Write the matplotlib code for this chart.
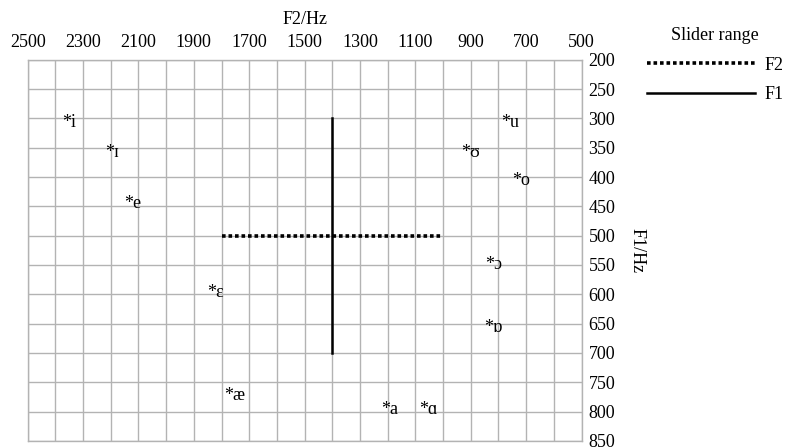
import matplotlib
matplotlib.use('Agg')
from matplotlib import pyplot as plt
import numpy as np

plt.rcParams['font.family'] = ['Liberation Serif', 'DejaVu Serif']

# vowel labels: (text, F2 Hz, F1 Hz) at the label's left/baseline
vowels = ['*i', '*ɪ', '*e', '*ɛ', '*æ', '*a', '*ɑ', '*ɒ', '*ɔ', '*o', '*ʊ', '*u']
vowel_f2 = [2375, 2221, 2151, 1851, 1791, 1225, 1086, 852, 848, 752, 936, 791]
vowel_f1 = [315, 365, 452, 604, 780, 804, 804, 665, 557, 414, 365, 315]

# slider ranges
f2_range = [1800, 1000]
f2_fixed_f1 = [500, 500]
f1_range = [300, 700]
f1_fixed_f2 = [1400, 1400]

f2_ticks = list(range(2500, 400, -200))
f1_ticks = list(range(200, 900, 50))

grey = '#b3b3b3'


def main():
    fig = plt.figure(figsize=(7.95, 4.48), dpi=100)
    ax = fig.add_axes([0.0348, 0.016, 0.6967, 0.8505])

    ax.set_xlim(2500, 500)
    ax.set_ylim(850, 200)

    ax.set_xticks(np.arange(2500, 499, -100), minor=True)
    ax.set_xticks(f2_ticks)
    ax.set_yticks(f1_ticks)
    ax.grid(True, which='both', axis='x', color=grey, lw=1.0)
    ax.grid(True, which='major', axis='y', color=grey, lw=1.0)
    ax.set_axisbelow(True)

    ax.xaxis.tick_top()
    ax.xaxis.set_label_position('top')
    ax.yaxis.tick_right()
    ax.yaxis.set_label_position('right')
    ax.tick_params(axis='both', which='both', length=0, labelsize=13)
    ax.tick_params(axis='x', pad=6.5)
    ax.tick_params(axis='y', pad=5)
    for s in ax.spines.values():
        s.set_color(grey)
        s.set_linewidth(1.0)

    ax.set_xlabel('F2/Hz', fontsize=13, labelpad=7)
    ax.set_ylabel('F1/Hz', fontsize=13, rotation=270, labelpad=22)

    ax.plot(f2_range, f2_fixed_f1, color='black', lw=2.6,
            linestyle=(0, (1, 0.8)), label='F2')
    ax.plot(f1_fixed_f2, f1_range, color='black', lw=1.8, label='F1')

    for txt, x, y in zip(vowels, vowel_f2, vowel_f1):
        ax.text(x, y, txt, fontsize=13, ha='left', va='baseline')

    ax.legend(loc='upper left', bbox_to_anchor=(1.105, 1.105), frameon=False,
              title='Slider range', title_fontsize=13, fontsize=13,
              handlelength=6.0, handletextpad=0.5, labelspacing=0.7,
              borderaxespad=0)

    fig.savefig('out.png', dpi=100)


if __name__ == '__main__':
    main()
